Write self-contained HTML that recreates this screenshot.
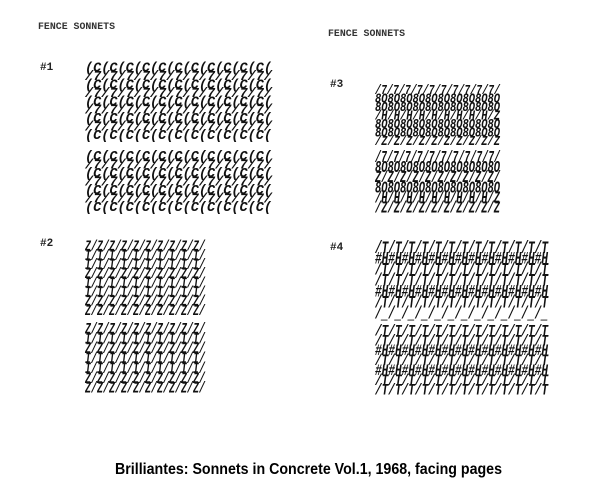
<!DOCTYPE html>
<html><head><meta charset="utf-8"><style>
html,body{margin:0;padding:0;background:#fff;width:615px;height:480px;overflow:hidden}
svg{display:block}
.h{font-family:"Liberation Mono",monospace;font-size:10px;font-weight:bold;fill:#333}
.n{font-family:"Liberation Mono",monospace;font-size:11px;font-weight:bold;fill:#222}
.p{font-family:"Liberation Mono",monospace;font-style:italic;font-weight:bold;fill:#111}
.cap{font-family:"Liberation Sans",sans-serif;font-size:16px;font-weight:bold;fill:#000}
</style></head><body>
<svg id="s" width="615" height="480" viewBox="0 0 615 480">
<text class="h" x="38" y="29" textLength="77" lengthAdjust="spacingAndGlyphs">FENCE SONNETS</text>
<text class="h" x="328" y="36" textLength="77" lengthAdjust="spacingAndGlyphs">FENCE SONNETS</text>
<text class="n" x="40" y="70">#1</text>
<text class="n" x="40" y="246">#2</text>
<text class="n" x="330" y="87">#3</text>
<text class="n" x="330" y="250">#4</text>
<text class="cap" x="115" y="474" textLength="387" lengthAdjust="spacingAndGlyphs">Brilliantes: Sonnets in Concrete Vol.1, 1968, facing pages</text>
<g id="blocks"></g>
</svg>
<script>
const blockNames=["poem-1-stanza-a","poem-1-stanza-b","poem-2-stanza-a","poem-2-stanza-b","poem-3-stanza-a","poem-3-stanza-b","poem-4-stanza-a","poem-4-stanza-b"];
const blockBoxes=[[85,62,187,78],[85,150,187,62],[85,240,120,76],[85,322,120,72],[375,84,125,62],[375,150,125,64],[375,240,173,80],[375,324,173,72]];
const blockRows=[
["(C(C(C(C(C(C(C(C(C(C(C(","/7/7/7/7/7/7/7/7/7/7/7/","(C(C(C(C(C(C(C(C(C(C(C(","/7/7/7/7/7/7/7/7/7/7/7/","(C(C(C(C(C(C(C(C(C(C(C(","/7/7/7/7/7/7/7/7/7/7/7/","(C(C(C(C(C(C(C(C(C(C(C(","/7/7/7/7/7/7/7/7/7/7/7/","(C(C(C(C(C(C(C(C(C(C(C("],
["(C(C(C(C(C(C(C(C(C(C(C(","/7/7/7/7/7/7/7/7/7/7/7/","(C(C(C(C(C(C(C(C(C(C(C(","/7/7/7/7/7/7/7/7/7/7/7/","(C(C(C(C(C(C(C(C(C(C(C(","/7/7/7/7/7/7/7/7/7/7/7/","(C(C(C(C(C(C(C(C(C(C(C("],
["Z/Z/Z/Z/Z/Z/Z/Z/Z/Z/","I/I/I/I/I/I/I/I/I/I/","I/I/I/I/I/I/I/I/I/I/","Z/Z/Z/Z/Z/Z/Z/Z/Z/Z/","I/I/I/I/I/I/I/I/I/I/","I/I/I/I/I/I/I/I/I/I/","Z/Z/Z/Z/Z/Z/Z/Z/Z/Z/","Z/Z/Z/Z/Z/Z/Z/Z/Z/Z/"],
["Z/Z/Z/Z/Z/Z/Z/Z/Z/Z/","I/I/I/I/I/I/I/I/I/I/","Z/Z/Z/Z/Z/Z/Z/Z/Z/Z/","I/I/I/I/I/I/I/I/I/I/","I/I/I/I/I/I/I/I/I/I/","Z/Z/Z/Z/Z/Z/Z/Z/Z/Z/","Z/Z/Z/Z/Z/Z/Z/Z/Z/Z/"],
["/7/7/7/7/7/7/7/7/7/7/","8O8O8O8O8O8O8O8O8O8O","8O8O8O8O8O8O8O8O8O8O","/H/H/H/H/H/H/H/H/H/Z","8O8O8O8O8O8O8O8O8O8O","8O8O8O8O8O8O8O8O8O8O","/Z/Z/Z/Z/Z/Z/Z/Z/Z/Z"],
["/7/7/7/7/7/7/7/7/7/7/","8O8O8O8O8O8O8O8O8O8O","Z/Z/Z/Z/Z/Z/Z/Z/Z/Z/","8O8O8O8O8O8O8O8O8O8O","/H/H/H/H/H/H/H/H/H/Z","/Z/Z/Z/Z/Z/Z/Z/Z/Z/Z"],
["/T/T/T/T/T/T/T/T/T/T/T/T/T","#H#H#H#H#H#H#H#H#H#H#H#H#H","/T/T/T/T/T/T/T/T/T/T/T/T/T","/T/T/T/T/T/T/T/T/T/T/T/T/T","#H#H#H#H#H#H#H#H#H#H#H#H#H","/T/T/T/T/T/T/T/T/T/T/T/T/T","/_/_/_/_/_/_/_/_/_/_/_/_/_"],
["/T/T/T/T/T/T/T/T/T/T/T/T/T","/T/T/T/T/T/T/T/T/T/T/T/T/T","#H#H#H#H#H#H#H#H#H#H#H#H#H","/T/T/T/T/T/T/T/T/T/T/T/T/T","#H#H#H#H#H#H#H#H#H#H#H#H#H","/T/T/T/T/T/T/T/T/T/T/T/T/T","/T/T/T/T/T/T/T/T/T/T/T/T/T"]
];
const g=document.getElementById('blocks');
const NS="http://www.w3.org/2000/svg";
blockRows.forEach((rows,i)=>{
  const [x,y,w,h]=blockBoxes[i];
  const grp=document.createElementNS(NS,'g');
  
  
  const n=rows.length;
  const fs=(h/n)*1.55;
  const first=y+fs*0.72;
  const last=y+h-fs*0.08;
  const step=n>1?(last-first)/(n-1):0;
  rows.forEach((r,j)=>{
    const t=document.createElementNS(NS,'text');
    
    
    t.setAttribute('class','p');
    t.setAttribute('x',x);
    t.setAttribute('y',(first+step*j).toFixed(1));
    t.setAttribute('font-size',fs.toFixed(1));
    t.setAttribute('textLength',w);
    t.setAttribute('lengthAdjust','spacingAndGlyphs');
    t.textContent=r;
    grp.appendChild(t);
  });
  g.appendChild(grp);
});
</script>
</body></html>
